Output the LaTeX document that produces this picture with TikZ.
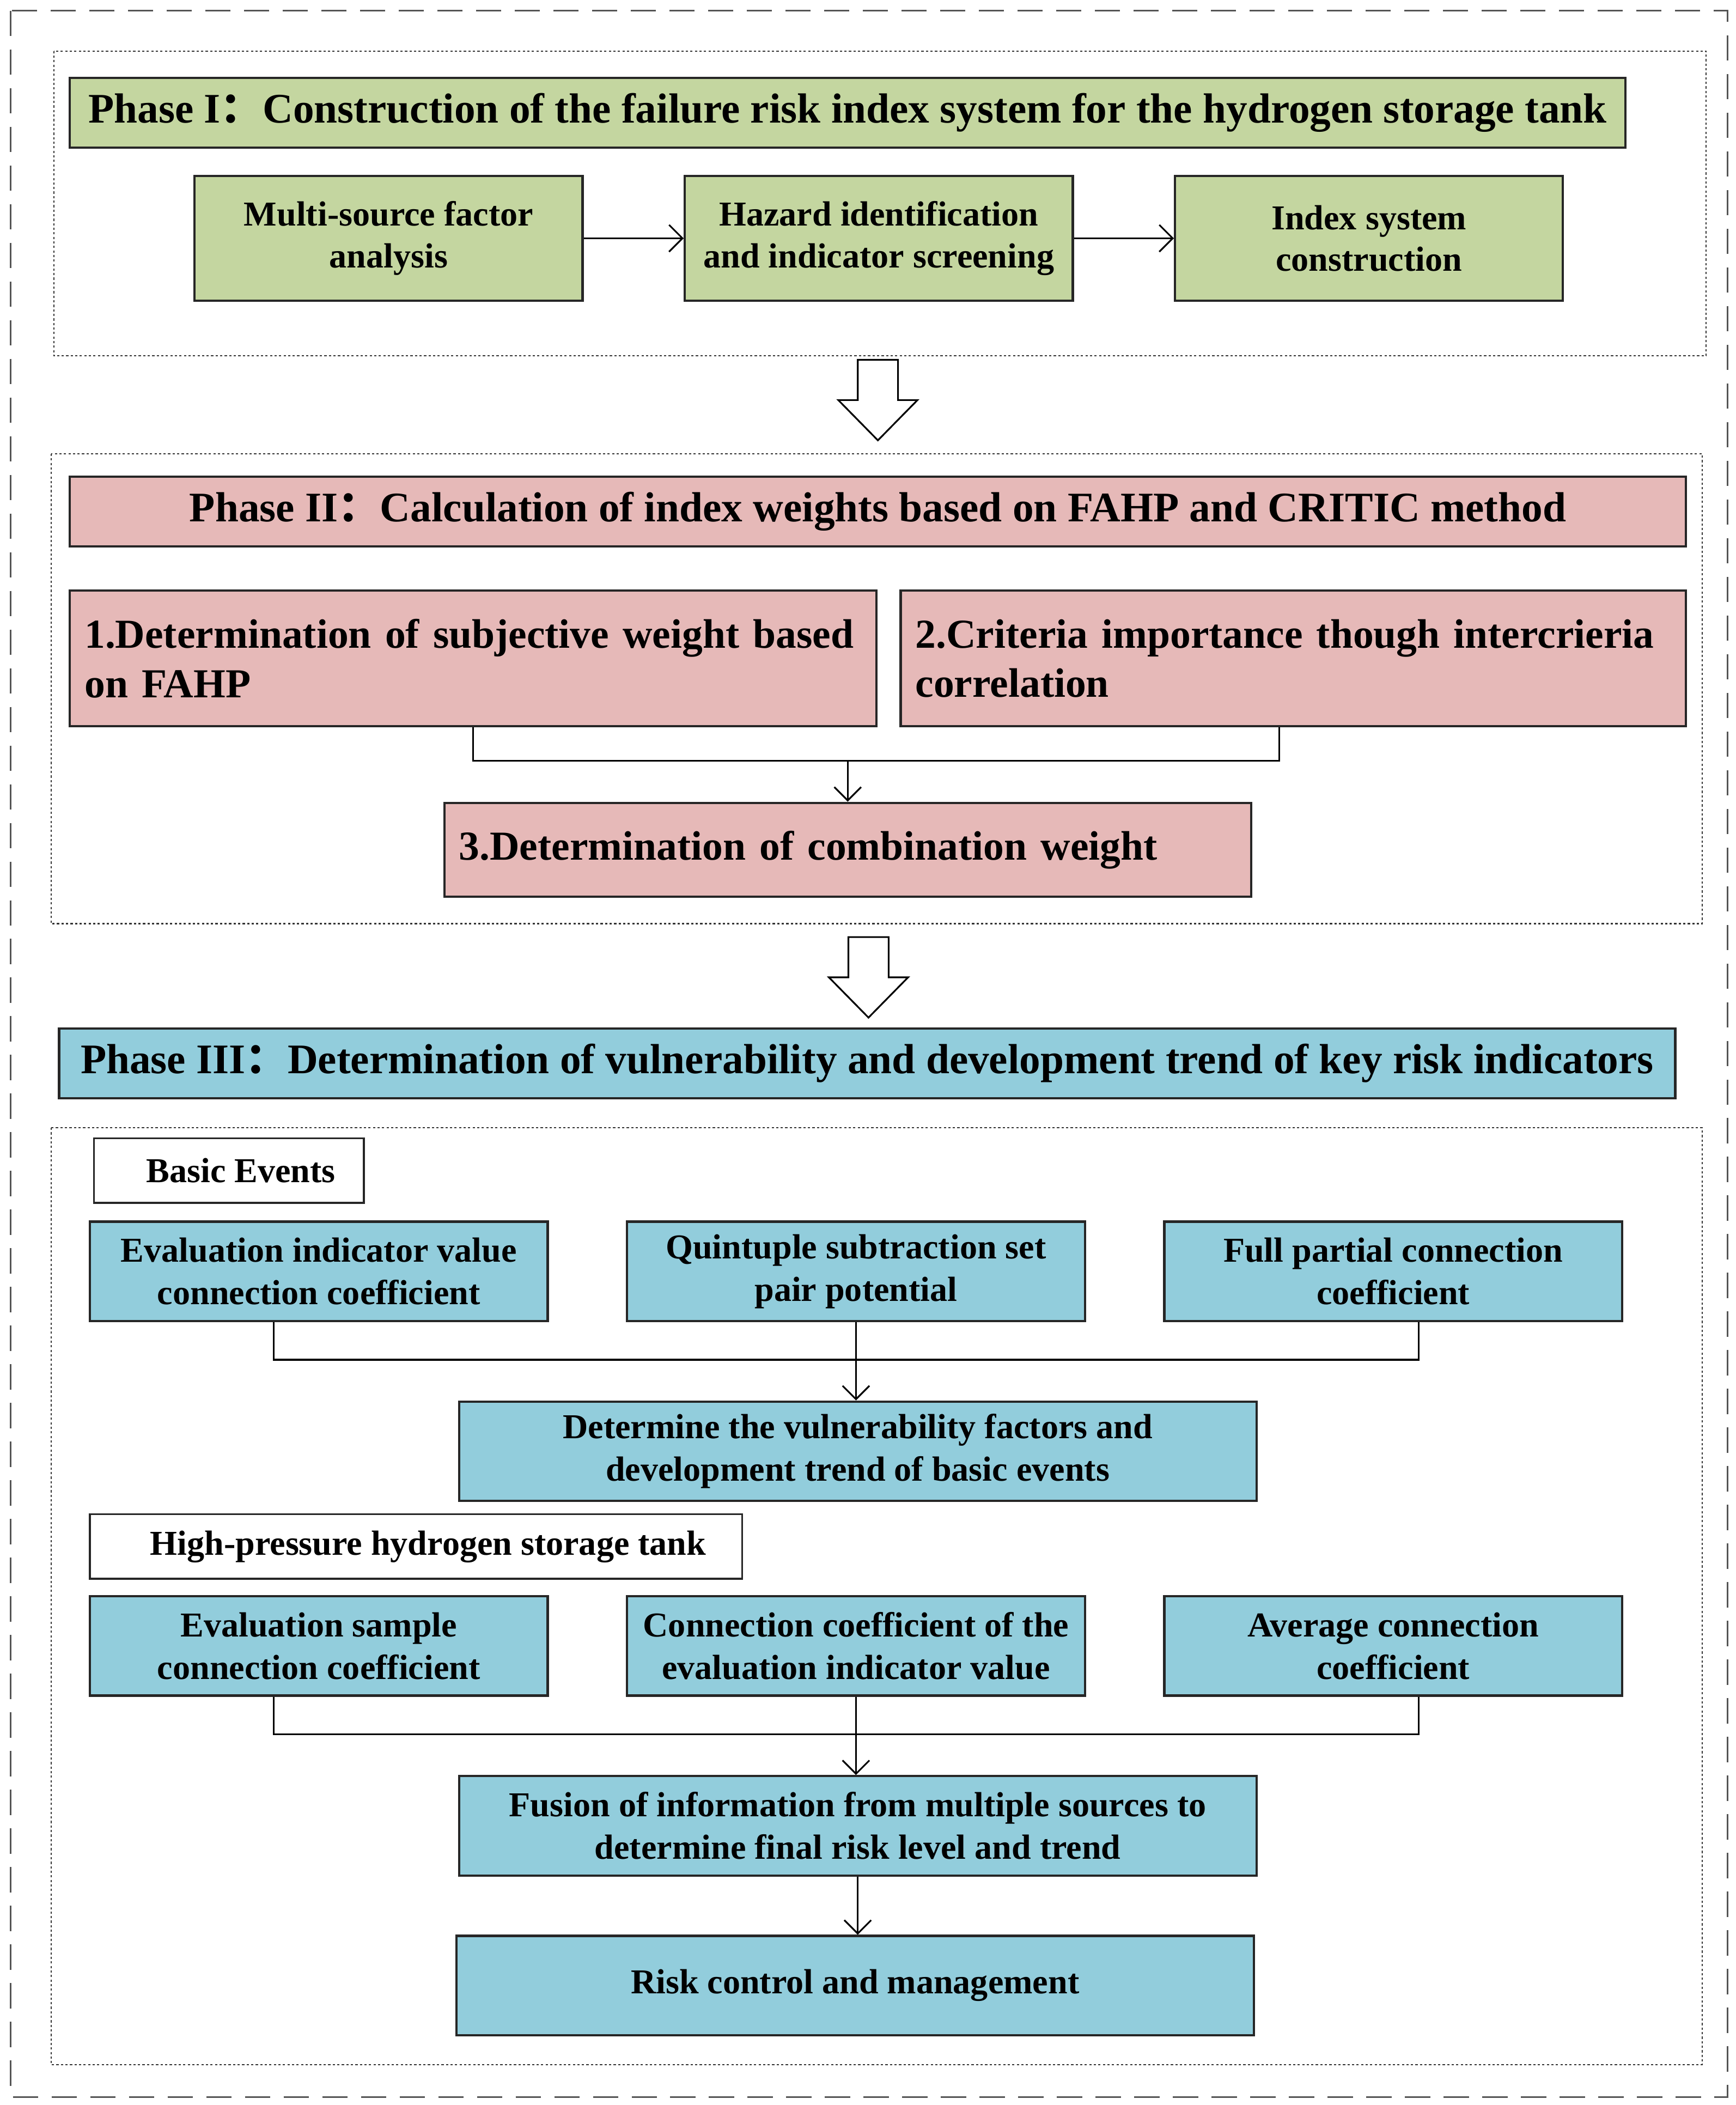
\documentclass[tikz,border=0pt]{standalone}
\usepackage{fontspec}
\setmainfont{Liberation Serif}
\newfontfamily\cjk{Noto Sans CJK SC}
\usepackage{tikz}
\usetikzlibrary{arrows.meta,calc,positioning}
\newlength\pxu
\setlength\pxu{0.025cm}
\definecolor{faseverde}{RGB}{196,214,160}
\definecolor{faserosa}{RGB}{230,185,184}
\definecolor{faseazul}{RGB}{146,205,220}
\definecolor{bordegris}{RGB}{85,85,85}
\tikzset{
  titulo/.style={
    draw=black!85,
    line width=1.2pt,
    minimum height=52\pxu,
    inner sep=0pt,
    align=center,
    font=\bfseries\fontsize{22.3}{26}\selectfont
  },
  paso/.style={
    draw=black!85,
    line width=1.2pt,
    fill=faseverde,
    minimum width=289\pxu,
    minimum height=93\pxu,
    inner sep=0pt,
    align=center,
    font=\bfseries\fontsize{18.5}{22}\selectfont
  },
  bloque/.style={
    draw=black!85,
    line width=1.2pt,
    fill=faserosa,
    inner xsep=11\pxu,
    inner ysep=0pt,
    align=left,
    font=\bfseries\fontsize{21.8}{26}\selectfont
  },
  caja/.style={
    draw=black!85,
    line width=1.2pt,
    fill=faseazul,
    minimum width=341\pxu,
    minimum height=74\pxu,
    inner sep=0pt,
    align=center,
    font=\bfseries\fontsize{18.5}{22.5}\selectfont
  },
  etiqueta/.style={
    draw=black!85,
    line width=1pt,
    fill=white,
    minimum height=48\pxu,
    inner sep=0pt,
    font=\bfseries\fontsize{18.5}{22}\selectfont
  },
  marco/.style={
    draw=bordegris,
    line width=1pt,
    dash pattern=on 0.47cm off 0.25cm
  },
  punteado/.style={
    draw=black!80,
    line width=0.6pt,
    dash pattern=on 1.2pt off 1.2pt
  },
  hueca/.style={
    draw=black,
    line width=0.9pt,
    fill=white
  },
  linea/.style={
    line width=0.9pt
  },
  arrow/.style={
    -{Straight Barb[length=0.25cm,width=0.5cm]},
    line width=0.9pt
  }
}
\newcommand\bigarrow[2]{%
  \draw[hueca] (#1-15,#2) -- (#1+15,#2) -- (#1+15,#2+30) -- (#1+29.5,#2+30)
    -- (#1,#2+60) -- (#1-29.5,#2+30) -- (#1-15,#2+30) -- cycle;}

\begin{document}
\begin{tikzpicture}[x=\pxu,y=-\pxu]
\useasboundingbox (0,0) rectangle (1293,1568);
\draw[marco] (8,8) rectangle (1287,1562);

% Phase I
\draw[punteado] (40,38) rectangle (1271,265);
\node[titulo,fill=faseverde,minimum width=1159\pxu] (p1) at (631.5,84)
  {Phase I{\cjk ：}Construction of the failure risk index system for the hydrogen storage tank};
\node[paso] (a1) at (289.5,177.5) {Multi-source factor\\analysis};
\node[paso,right=74.5\pxu of a1] (a2) {Hazard identification\\and indicator screening};
\node[paso,right=74.5\pxu of a2] (a3) {Index system\\construction};
\draw[arrow] (a1) -- (a2);
\draw[arrow] (a2) -- (a3);

\bigarrow{654}{268}

% Phase II
\draw[punteado] (38,338) rectangle (1268,688);
\node[titulo,fill=faserosa,minimum width=1204\pxu] (p2) at (654,381)
  {Phase II{\cjk ：}Calculation of index weights based on FAHP and CRITIC method};
\node[bloque,text width=579\pxu,minimum height=101\pxu] (b1) at (352.5,490.5)
  {1.Determination of subjective weight based\\on FAHP};
\node[bloque,text width=563\pxu,minimum height=101\pxu] (b2) at (963.5,490.5)
  {2.Criteria importance though intercrieria\\correlation};
\node[bloque,text width=579\pxu,minimum height=70\pxu] (b3) at (631.5,633)
  {3.Determination of combination weight};
\coordinate (m2) at (631.5,566);
\draw[linea] (b1.south) -- ++(0,25) -| ($(b2.south)+(-10.5,0)$);
\draw[arrow] (m2) -- (b3.north);

\bigarrow{647}{698}

% Phase III
\node[titulo,fill=faseazul,minimum width=1204\pxu] (p3) at (646,792)
  {Phase III{\cjk ：}Determination of vulnerability and development trend of key risk indicators};
\draw[punteado] (38,840) rectangle (1268,1538);
\node[etiqueta,minimum width=201\pxu] (t1) at (170.5,872) {\hspace*{18\pxu}Basic Events};
\node[caja] (c1) at (237.5,947) {Evaluation indicator value\\connection coefficient};
\node[caja,right=57.5\pxu of c1] (c2) {Quintuple subtraction set\\pair potential};
\node[caja,right=57.5\pxu of c2] (c3) {Full partial connection\\coefficient};
\node[caja,minimum width=594\pxu] (d1) at (639,1081)
  {Determine the vulnerability factors and\\development trend of basic events};
\draw[linea] ($(c1.south)+(-33.5,0)$) -- ++(0,28) -| ($(c3.south)+(19,0)$);
\draw[arrow] (c2.south) -- (c2.south |- d1.north);

\node[etiqueta,minimum width=486\pxu] (t2) at (310,1152) {\hspace*{18\pxu}High-pressure hydrogen storage tank};
\node[caja] (e1) at (237.5,1226) {Evaluation sample\\connection coefficient};
\node[caja,right=57.5\pxu of e1] (e2) {Connection coefficient of the\\evaluation indicator value};
\node[caja,right=57.5\pxu of e2] (e3) {Average connection\\coefficient};
\node[caja,minimum width=594\pxu] (f1) at (639,1360)
  {Fusion of information from multiple sources to\\determine final risk level and trend};
\node[caja,minimum width=594\pxu] (g1) at (637,1479) {Risk control and management};
\draw[linea] ($(e1.south)+(-33.5,0)$) -- ++(0,28) -| ($(e3.south)+(19,0)$);
\draw[arrow] (e2.south) -- (e2.south |- f1.north);
\draw[arrow] (f1.south) -- (f1.south |- g1.north);
\end{tikzpicture}
\end{document}
